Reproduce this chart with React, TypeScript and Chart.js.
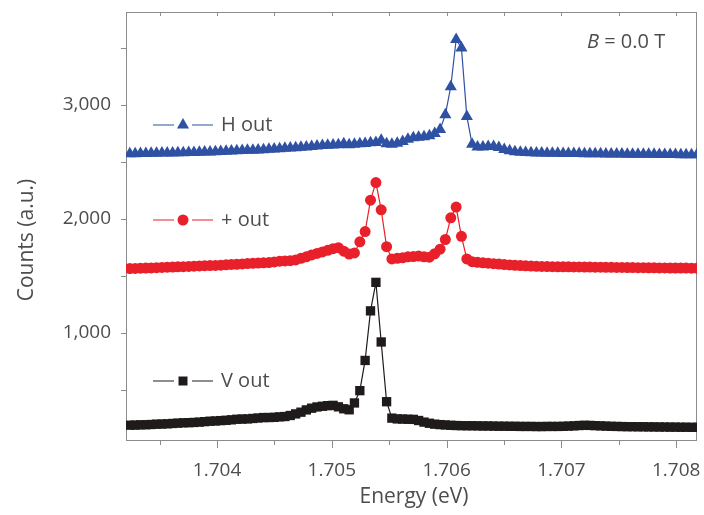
import { useEffect, useRef } from "react";
import { Chart, registerables } from "chart.js";

Chart.register(...registerables);

// Photon energy grid (eV)
const energies = [
  1.70324, 1.703287, 1.703333, 1.70338, 1.703426, 1.703473, 1.70352, 1.703566, 1.703613, 1.703659,
  1.703706, 1.703753, 1.703799, 1.703846, 1.703892, 1.703939, 1.703986, 1.704032, 1.704079, 1.704125,
  1.704172, 1.704219, 1.704265, 1.704312, 1.704358, 1.704405, 1.704452, 1.704498, 1.704545, 1.704591,
  1.704638, 1.704685, 1.704731, 1.704778, 1.704824, 1.704871, 1.704918, 1.704964, 1.705011, 1.705057,
  1.705104, 1.705151, 1.705197, 1.705244, 1.70529, 1.705337, 1.705384, 1.70543, 1.705477, 1.705523,
  1.70557, 1.705617, 1.705663, 1.70571, 1.705756, 1.705803, 1.70585, 1.705896, 1.705943, 1.705989,
  1.706036, 1.706083, 1.706129, 1.706176, 1.706222, 1.706269, 1.706316, 1.706362, 1.706409, 1.706455,
  1.706502, 1.706549, 1.706595, 1.706642, 1.706688, 1.706735, 1.706782, 1.706828, 1.706875, 1.706921,
  1.706968, 1.707015, 1.707061, 1.707108, 1.707154, 1.707201, 1.707248, 1.707294, 1.707341, 1.707387,
  1.707434, 1.707481, 1.707527, 1.707574, 1.70762, 1.707667, 1.707714, 1.70776, 1.707807, 1.707853,
  1.7079, 1.707947, 1.707993, 1.70804, 1.708086, 1.708133, 1.70818,
];

const hOut = [
  2572, 2573, 2574, 2575, 2576, 2577, 2578, 2579, 2580, 2581,
  2582, 2583, 2584, 2586, 2587, 2588, 2590, 2592, 2594, 2596,
  2598, 2600, 2602, 2604, 2606, 2608, 2611, 2614, 2617, 2620,
  2623, 2626, 2629, 2632, 2636, 2640, 2644, 2648, 2650, 2652,
  2660, 2652, 2655, 2660, 2662, 2668, 2672, 2690, 2660, 2655,
  2665, 2680, 2700, 2712, 2718, 2722, 2730, 2750, 2785, 2915,
  3160, 3575, 3500, 2900, 2655, 2632, 2632, 2635, 2635, 2628,
  2610, 2598, 2590, 2586, 2583, 2581, 2580, 2578, 2577, 2576,
  2576, 2575, 2575, 2574, 2574, 2573, 2573, 2572, 2572, 2571,
  2571, 2570, 2570, 2569, 2569, 2568, 2568, 2567, 2567, 2566,
  2566, 2565, 2565, 2564, 2564, 2563, 2563,
];

const plusOut = [
  1565, 1566, 1568, 1569, 1571, 1573, 1575, 1577, 1578, 1580,
  1582, 1584, 1586, 1588, 1590, 1591, 1593, 1595, 1598, 1601,
  1603, 1606, 1609, 1611, 1613, 1616, 1618, 1623, 1630, 1632,
  1634, 1641, 1655, 1668, 1685, 1698, 1711, 1725, 1740, 1748,
  1718, 1692, 1702, 1800, 1890, 2165, 2320, 2080, 1757, 1650,
  1655, 1660, 1668, 1670, 1675, 1668, 1665, 1695, 1735, 1820,
  2010, 2105, 1848, 1650, 1625, 1620, 1615, 1612, 1608, 1605,
  1600, 1597, 1594, 1591, 1589, 1587, 1585, 1584, 1583, 1582,
  1581, 1580, 1580, 1579, 1579, 1578, 1578, 1577, 1577, 1576,
  1576, 1575, 1575, 1574, 1574, 1573, 1573, 1572, 1572, 1571,
  1571, 1570, 1570, 1569, 1569, 1568, 1568,
];

const vOut = [
  191, 192, 194, 195, 197, 200, 201, 203, 206, 209,
  212, 213, 215, 218, 222, 226, 228, 231, 234, 238,
  243, 245, 246, 250, 254, 258, 258, 260, 264, 267,
  276, 290, 305, 325, 340, 351, 357, 362, 365, 352,
  335, 326, 386, 494, 759, 1194, 1444, 921, 397, 253,
  246, 245, 243, 242, 232, 218, 208, 200, 196, 193,
  190, 188, 187, 186, 186, 185, 184, 184, 183, 182,
  182, 181, 181, 180, 180, 180, 179, 179, 180, 180,
  180, 181, 183, 185, 188, 190, 189, 187, 185, 183,
  181, 180, 179, 178, 178, 177, 177, 176, 176, 175,
  175, 174, 174, 173, 173, 172, 172,
];

const seriesNames = ["H out", "+ out", "V out"];
const xTickValues = [1.704, 1.705, 1.706, 1.707, 1.708];
const xTickLabels = ["1.704", "1.705", "1.706", "1.707", "1.708"];
const xMinorTicks = [1.7035, 1.704, 1.7045, 1.705, 1.7055, 1.706, 1.7065, 1.707, 1.7075, 1.708];
const yTickValues = [1000, 2000, 3000];
const yTickLabels = ["1,000", "2,000", "3,000"];
const yMinorTicks = [500, 1000, 1500, 2000, 2500, 3000, 3500];
const xTitle = "Energy (eV)";
const yTitle = "Counts (a.u.)";

const BLUE = "#2f51a3";
const RED = "#e8202a";
const BLACK = "#1f1b1b";
const TEXT = "#4d4d4d";
const FRAME = "#8c8c8c";
const FONT = "'Open Sans', 'Noto Sans', sans-serif";

function drawMarker(ctx: CanvasRenderingContext2D, style: string, x: number, y: number, color: string) {
  ctx.save();
  ctx.fillStyle = color;
  ctx.beginPath();
  if (style === "triangle") {
    const r = 7;
    ctx.moveTo(x, y - r);
    ctx.lineTo(x + r * 0.866, y + r * 0.5);
    ctx.lineTo(x - r * 0.866, y + r * 0.5);
    ctx.closePath();
  } else if (style === "circle") {
    ctx.arc(x, y, 5.5, 0, Math.PI * 2);
  } else {
    ctx.rect(x - 4.5, y - 4.5, 9, 9);
  }
  ctx.fill();
  ctx.restore();
}

export default function App() {
  const ref = useRef<HTMLCanvasElement>(null);

  useEffect(() => {
    document.body.style.margin = "0";
    const canvas = ref.current;
    if (!canvas) return;

    const toXY = (ys: number[]) => ys.map((y, i) => ({ x: energies[i], y }));

    const overlay = {
      id: "overlay",
      beforeDatasetsDraw(chart: any) {
        const { ctx, chartArea } = chart;
        const { left, right, top, bottom } = chartArea;
        const xs = chart.scales.x;
        const ys = chart.scales.y;
        ctx.save();
        ctx.strokeStyle = FRAME;
        ctx.lineWidth = 1;
        ctx.strokeRect(left + 0.5, top + 0.5, right - left - 1, bottom - top);
        ctx.beginPath();
        yMinorTicks.forEach((v) => {
          const py = Math.round(ys.getPixelForValue(v)) + 0.5;
          ctx.moveTo(left - 5, py);
          ctx.lineTo(left, py);
        });
        xMinorTicks.forEach((v) => {
          const px = Math.round(xs.getPixelForValue(v)) + 0.5;
          const major = xTickValues.some((m) => Math.abs(m - v) < 1e-7);
          ctx.moveTo(px, bottom);
          ctx.lineTo(px, bottom + (major ? 8 : 5));
          ctx.moveTo(px, top);
          ctx.lineTo(px, top + 4);
        });
        ctx.stroke();
        ctx.restore();
      },
      afterDatasetsDraw(chart: any) {
        const { ctx } = chart;
        ctx.save();
        ctx.fillStyle = TEXT;
        ctx.font = `20px ${FONT}`;
        ctx.textBaseline = "middle";
        const entries = [
          { name: seriesNames[0], color: BLUE, style: "triangle", y: 125 },
          { name: seriesNames[1], color: RED, style: "circle", y: 220 },
          { name: seriesNames[2], color: BLACK, style: "rect", y: 381 },
        ];
        entries.forEach((e) => {
          ctx.strokeStyle = e.color;
          ctx.lineWidth = 1.2;
          ctx.beginPath();
          ctx.moveTo(153, e.y);
          ctx.lineTo(174, e.y);
          ctx.moveTo(192, e.y);
          ctx.lineTo(213, e.y);
          ctx.stroke();
          drawMarker(ctx, e.style, 183, e.y, e.color);
          ctx.fillStyle = TEXT;
          ctx.textAlign = "left";
          ctx.fillText(e.name, 221, e.y);
        });
        ctx.textAlign = "left";
        ctx.font = `italic 20px ${FONT}`;
        ctx.fillText("B", 587, 42);
        const bw = ctx.measureText("B").width;
        ctx.font = `20px ${FONT}`;
        ctx.fillText(" = 0.0 T", 587 + bw, 42);
        ctx.font = `21px ${FONT}`;
        ctx.textAlign = "center";
        ctx.fillText(xTitle, 414, 497);
        ctx.translate(27, 240);
        ctx.rotate(-Math.PI / 2);
        ctx.fillText(yTitle, 0, 0);
        ctx.restore();
      },
    };

    const chart = new Chart(canvas, {
      type: "line",
      data: {
        datasets: [
          {
            label: seriesNames[0],
            data: toXY(hOut),
            borderColor: BLUE,
            backgroundColor: BLUE,
            borderWidth: 1.2,
            pointStyle: "triangle",
            pointRadius: 7,
            pointBorderWidth: 0,
            pointBackgroundColor: BLUE,
            clip: 0,
          },
          {
            label: seriesNames[1],
            data: toXY(plusOut),
            borderColor: RED,
            backgroundColor: RED,
            borderWidth: 1.2,
            pointStyle: "circle",
            pointRadius: 5.5,
            pointBorderWidth: 0,
            pointBackgroundColor: RED,
            clip: 0,
          },
          {
            label: seriesNames[2],
            data: toXY(vOut),
            borderColor: BLACK,
            backgroundColor: BLACK,
            borderWidth: 1.2,
            pointStyle: "rect",
            pointRadius: 6.6,
            pointBorderWidth: 0,
            pointBackgroundColor: BLACK,
            clip: 0,
          },
        ],
      },
      options: {
        animation: false,
        responsive: false,
        maintainAspectRatio: false,
        layout: { padding: { top: 12, right: 2, left: 0, bottom: 0 } },
        plugins: { legend: { display: false }, tooltip: { enabled: false } },
        scales: {
          x: {
            type: "linear",
            min: 1.703207,
            max: 1.708181,
            afterFit: (s: any) => {
              s.height = 75;
              s.paddingLeft = 0;
              s.paddingRight = 0;
            },
            afterBuildTicks: (s: any) => {
              s.ticks = xTickValues.map((v) => ({ value: v }));
            },
            ticks: {
              callback: (_v: any, i: number) => xTickLabels[i],
              font: { family: FONT, size: 19 },
              color: TEXT,
              padding: 19,
              maxRotation: 0,
              autoSkip: false,
            },
            grid: { display: false, drawTicks: false },
            border: { display: false },
          },
          y: {
            type: "linear",
            min: 61,
            max: 3816,
            afterFit: (s: any) => {
              s.width = 126;
              s.paddingTop = 0;
              s.paddingBottom = 0;
            },
            afterBuildTicks: (s: any) => {
              s.ticks = yTickValues.map((v) => ({ value: v }));
            },
            ticks: {
              callback: (_v: any, i: number) => yTickLabels[i],
              font: { family: FONT, size: 19 },
              color: TEXT,
              padding: 15,
              autoSkip: false,
            },
            grid: { display: false, drawTicks: false },
            border: { display: false },
          },
        },
      },
      plugins: [overlay],
    });

    return () => chart.destroy();
  }, []);

  return <canvas ref={ref} width={704} height={515} style={{ display: "block" }} />;
}
